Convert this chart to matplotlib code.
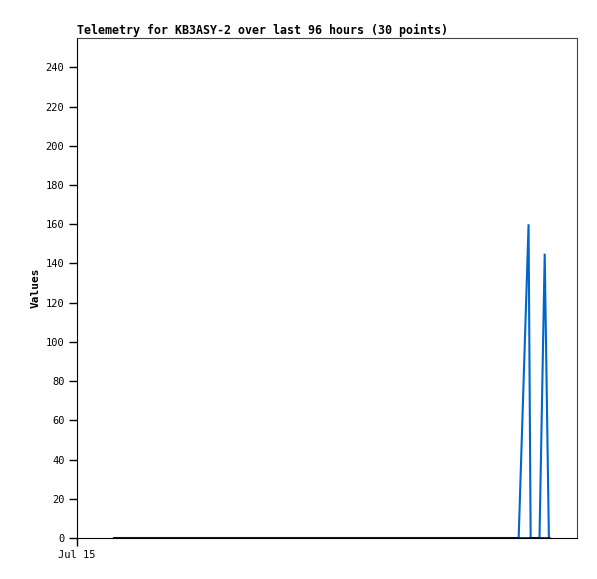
import matplotlib
matplotlib.use('Agg')
import matplotlib.pyplot as plt

# --- data (hours since Jul 15 00:00) ---
hours = [7.1, 10.4, 13.7, 17.0, 20.3, 23.6, 26.9, 30.2, 33.5, 36.8,
         40.1, 43.4, 46.7, 50.0, 53.3, 56.6, 59.9, 63.2, 66.5, 69.8,
         73.1, 76.4, 79.7, 83.0, 84.8, 86.7, 87.1, 88.8, 89.8, 90.6]
base_vals = [0] * 30
blue_vals = [0, 0, 0, 0, 0, 0, 0, 0, 0, 0,
             0, 0, 0, 0, 0, 0, 0, 0, 0, 0,
             0, 0, 0, 0, 0, 160, 0, 0, 145, 0]
xtick_pos = [0]
xtick_labels = ['Jul 15']
yticks = list(range(0, 241, 20))

title = 'Telemetry for KB3ASY-2 over last 96 hours (30 points)'

mono = 'DejaVu Sans Mono'

fig = plt.figure(figsize=(5.97, 5.79), dpi=100)
ax = fig.add_axes([77 / 597, 1 - 538 / 579, 500 / 597, 500 / 579])

ax.plot(hours, blue_vals, color='#0066cc', lw=1.5, solid_joinstyle='miter', zorder=2)
ax.plot(hours, base_vals, color='black', lw=1.8, zorder=3)

ax.set_xlim(0, 96)
ax.set_ylim(0, 255)
ax.set_xticks(xtick_pos)
ax.set_xticklabels(xtick_labels)
ax.set_yticks(yticks)

for lab in ax.get_xticklabels() + ax.get_yticklabels():
    lab.set_family(mono)
    lab.set_fontsize(7.5)
ax.tick_params(direction='out', length=6, width=1, color='black', pad=3)

for side in ['top', 'right']:
    ax.spines[side].set_color('#444444')
for side in ['left', 'bottom']:
    ax.spines[side].set_color('black')

ax.set_ylabel('Values', family=mono, fontsize=8, fontweight='bold', labelpad=4)
ax.set_title(title, family=mono, fontsize=8.4, fontweight='bold', loc='left', pad=3)

fig.savefig('out.png', dpi=100)
